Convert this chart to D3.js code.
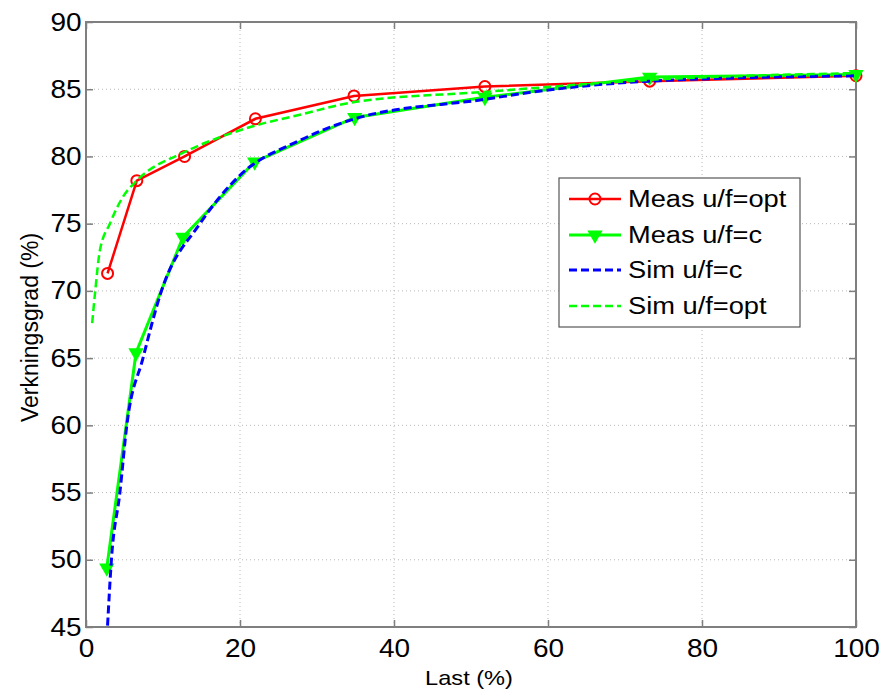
<!DOCTYPE html>
<html>
<head>
<meta charset="utf-8">
<script src="https://cdn.jsdelivr.net/npm/d3@7"></script>
<style>
  body { margin: 0; background: #fff; }
  text { font-family: "Liberation Sans", Arial, sans-serif; fill: #000; }
</style>
</head>
<body>
<div id="chart"></div>
<script>
// Measured and simulated efficiency vs load
const measOptX = [2.8, 6.6, 12.8, 22.0, 34.8, 51.8, 73.2, 100];
const measOptY = [71.3, 78.2, 80.0, 82.8, 84.5, 85.2, 85.6, 86.0];

const measCX = [2.7, 6.5, 12.6, 21.9, 34.9, 51.8, 73.2, 100];
const measCY = [49.4, 65.4, 74.0, 79.6, 82.9, 84.4, 85.9, 86.1];

const simCX = [2.8, 3.3, 4.4, 5.3, 7.4, 9.8, 14.8, 20, 27.8, 34.9, 51.8, 59.4, 73.2, 100];
const simCY = [45.1, 50, 55, 60, 65, 70, 75, 78.6, 81.2, 82.8, 84.25, 84.9, 85.6, 86.0];

const simOptX = [0.8, 1.2, 1.8, 3.1, 4.8, 6.6, 12.9, 18.7, 22, 27.8, 34.9, 51.8, 73.2, 100];
const simOptY = [67.6, 70.0, 73.0, 75.0, 77.0, 78.2, 80.35, 81.7, 82.3, 83.1, 84.05, 84.8, 85.7, 86.2];

const xTicks = [0, 20, 40, 60, 80, 100];
const yTicks = [45, 50, 55, 60, 65, 70, 75, 80, 85, 90];

const width = 894, height = 691;
const margin = { top: 22, right: 38, bottom: 64, left: 86 };
const iw = width - margin.left - margin.right;
const ih = height - margin.top - margin.bottom;

// the source picture is a bit wider than tall, so horizontal text is stretched
const stretch = 1.12;

const svg = d3.select("#chart").append("svg")
  .attr("width", width).attr("height", height);

const g = svg.append("g").attr("transform", `translate(${margin.left},${margin.top})`);

const x = d3.scaleLinear().domain([0, 100]).range([0, iw]);
const y = d3.scaleLinear().domain([45, 90]).range([ih, 0]);

// grid
g.append("g").selectAll("line").data(xTicks.slice(1, -1)).enter().append("line")
  .attr("x1", d => x(d)).attr("x2", d => x(d)).attr("y1", 0).attr("y2", ih)
  .attr("stroke", "#b8b8b8").attr("stroke-width", 1).attr("stroke-dasharray", "1,3");
g.append("g").selectAll("line").data(yTicks.slice(1, -1)).enter().append("line")
  .attr("y1", d => y(d)).attr("y2", d => y(d)).attr("x1", 0).attr("x2", iw)
  .attr("stroke", "#b8b8b8").attr("stroke-width", 1).attr("stroke-dasharray", "1,3");

// axes (box with inward ticks)
const axisColor = "#7f7f7f";
function styleAxis(sel) {
  sel.select(".domain").remove();
  sel.selectAll(".tick line").attr("stroke", axisColor).attr("stroke-width", 1.5);
  sel.selectAll(".tick text").style("font-size", "25px").attr("fill", "#000")
    .attr("transform", `scale(${stretch},1)`);
}
g.append("g").attr("transform", `translate(0,${ih})`)
  .call(d3.axisBottom(x).tickValues(xTicks).tickSizeInner(-7).tickSizeOuter(0).tickPadding(12))
  .call(styleAxis);
g.append("g")
  .call(d3.axisTop(x).tickValues(xTicks).tickSizeInner(-7).tickSizeOuter(0).tickFormat(""))
  .call(styleAxis);
g.append("g")
  .call(d3.axisLeft(y).tickValues(yTicks).tickSizeInner(-7).tickSizeOuter(0).tickPadding(4))
  .call(styleAxis);
g.append("g").attr("transform", `translate(${iw},0)`)
  .call(d3.axisRight(y).tickValues(yTicks).tickSizeInner(-7).tickSizeOuter(0).tickFormat(""))
  .call(styleAxis);
g.append("rect").attr("width", iw).attr("height", ih)
  .attr("fill", "none").attr("stroke", axisColor).attr("stroke-width", 2);

// axis labels
svg.append("text")
  .attr("transform", `translate(${margin.left + iw / 2 - 2},685) scale(1.18,1)`)
  .attr("text-anchor", "middle").style("font-size", "20px").text("Last (%)");
svg.append("text")
  .attr("transform", `translate(38,${margin.top + ih / 2 + 3}) rotate(-90)`)
  .attr("text-anchor", "middle").style("font-size", "23px").text("Verkningsgrad (%)");

const line = d3.line().x(d => x(d[0])).y(d => y(d[1]));
const lineSmooth = d3.line().x(d => x(d[0])).y(d => y(d[1])).curve(d3.curveMonotoneX);

const plot = g.append("g");
const zip = (a, b) => a.map((v, i) => [v, b[i]]);

const series = [
  { name: "Meas u/f=opt", data: zip(measOptX, measOptY), color: "#ff0000", width: 2.5, dash: null, marker: "circle", smooth: false },
  { name: "Meas u/f=c", data: zip(measCX, measCY), color: "#00ff00", width: 3, dash: null, marker: "tri", smooth: false },
  { name: "Sim u/f=c", data: zip(simCX, simCY), color: "#0000ff", width: 3, dash: "8,4", marker: null, smooth: true },
  { name: "Sim u/f=opt", data: zip(simOptX, simOptY), color: "#00ff00", width: 2.5, dash: "8,4", marker: null, smooth: true }
];

const tri = d3.symbol().type(d3.symbolTriangle).size(70);

function drawMarker(sel, s, cx, cy) {
  if (s.marker === "circle") {
    sel.append("circle").attr("cx", cx).attr("cy", cy).attr("r", 5.5)
      .attr("fill", "none").attr("stroke", s.color).attr("stroke-width", 2);
  } else if (s.marker === "tri") {
    sel.append("path").attr("d", tri())
      .attr("transform", `translate(${cx},${cy}) rotate(180)`)
      .attr("fill", s.color).attr("stroke", s.color).attr("stroke-width", 1.5);
  }
}

series.forEach(s => {
  plot.append("path").datum(s.data)
    .attr("d", s.smooth ? lineSmooth : line)
    .attr("fill", "none").attr("stroke", s.color).attr("stroke-width", s.width)
    .attr("stroke-dasharray", s.dash);
  if (s.marker) {
    s.data.forEach(d => drawMarker(plot, s, x(d[0]), y(d[1])));
  }
});

// legend
const lg = svg.append("g").attr("transform", "translate(559,178)");
lg.append("rect").attr("width", 241).attr("height", 149)
  .attr("fill", "#fff").attr("stroke", "#555").attr("stroke-width", 1.2);
const rowY = [21, 57, 92, 128];
series.forEach((s, i) => {
  const r = lg.append("g");
  r.append("line").attr("x1", 10).attr("x2", 62).attr("y1", rowY[i]).attr("y2", rowY[i])
    .attr("stroke", s.color).attr("stroke-width", s.width).attr("stroke-dasharray", s.dash);
  drawMarker(r, s, 36, rowY[i]);
  r.append("text").attr("transform", `translate(69,${rowY[i] + 8}) scale(1.16,1)`)
    .style("font-size", "23.5px").text(s.name);
});
</script>
</body>
</html>
